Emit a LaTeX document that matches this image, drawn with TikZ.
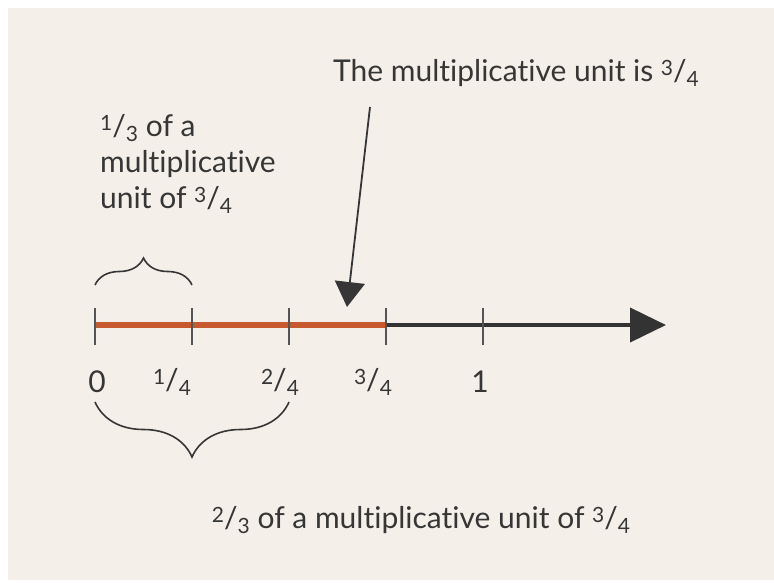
\documentclass[tikz,border=0pt]{standalone}
\usepackage{fontspec}
\setmainfont{Lato}[Ligatures=NoCommon]
\usetikzlibrary{arrows.meta,decorations.pathreplacing}
\definecolor{paper}{HTML}{F4EFE9}
\definecolor{ink}{HTML}{363636}
\definecolor{rust}{HTML}{C65A2E}
\newcommand{\nfrac}[2]{\raisebox{.42ex}{\scalebox{.7}{#1}}/\raisebox{-.3ex}{\scalebox{.7}{#2}}}
\tikzset{
  labeltext/.style={text=ink, font=\fontsize{30}{36}\selectfont, inner sep=0pt},
  tickmark/.style={line width=2.5pt, draw=ink!85},
  curly/.style={decorate, decoration={brace, amplitude=#1}, line width=1.6pt, draw=ink},
}
\begin{document}
\begin{tikzpicture}[x=1pt, y=-1pt, >=Triangle]
  \fill[white] (0,0) rectangle (774,582);
  \fill[paper] (8,8) rectangle (774,580);

  % points on the number line
  \coordinate (t0) at (95,325);
  \coordinate (t1) at (192,325);
  \coordinate (t2) at (289,325);
  \coordinate (t3) at (386,325);
  \coordinate (t4) at (483,325);
  \coordinate (end) at (666,325);

  \draw[line width=4pt, ink!95!black, -{Triangle[length=36pt,width=34pt]}] (t3) -- (end);
  \draw[line width=6pt, rust] (t0) -- (t3);
  \foreach \p in {t0,t1,t2,t3,t4}
    \draw[tickmark] ([yshift=17pt]\p) -- ([yshift=-20pt]\p);

  \node[labeltext] (l0) at (97,382) {0};
  \node[labeltext] (l1) at (172,382) {\nfrac{1}{4}};
  \node[labeltext] (l2) at (280,382) {\nfrac{2}{4}};
  \node[labeltext] (l3) at (373,382) {\nfrac{3}{4}};
  \node[labeltext] (l4) at (480,382) {1};

  % braces
  \draw[curly=27pt] ([yshift=40pt]t0) -- ([yshift=40pt]t1);
  \draw[curly=55pt] ([yshift=-77pt]t2) -- ([yshift=-77pt]t0);

  \node[labeltext, anchor=west, align=left] (third) at (100,164)
    {\nfrac{1}{3} of a\\multiplicative\\unit of \nfrac{3}{4}};
  \node[labeltext] (twothirds) at (421,520)
    {\nfrac{2}{3} of a multiplicative unit of \nfrac{3}{4}};
  \node[labeltext] (unit) at (516,73) {The multiplicative unit is \nfrac{3}{4}};

  \coordinate (from) at (370,107);
  \coordinate (to) at (347,307);
  \draw[line width=1.8pt, ink, -{Triangle[length=25pt,width=30pt]}] (from) -- (to);
\end{tikzpicture}
\end{document}
